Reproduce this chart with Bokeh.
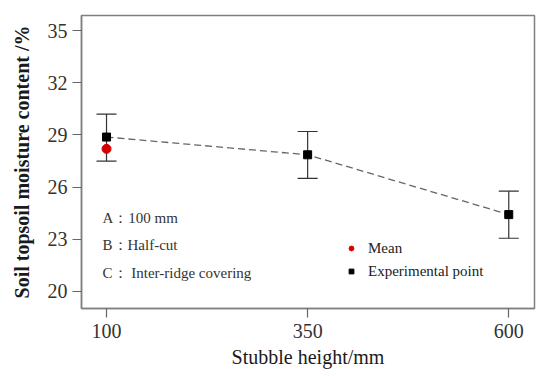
from bokeh.plotting import figure
from bokeh.models import (FixedTicker, Whisker, TeeHead, ColumnDataSource, Label,
                          Legend, LegendItem, Range1d)
from bokeh.embed import file_html
from bokeh.resources import INLINE

# ---- data ----
heights = [100, 350, 600]
exp_points = [28.88, 27.86, 24.42]
err_upper = [30.2, 29.2, 25.77]
err_lower = [27.5, 26.5, 23.06]
mean_x = [100]
mean_y = [28.2]
y_ticks = [20, 23, 26, 29, 32, 35]
x_ticks = [100, 350, 600]
notes = ["A\uff1a100 mm", "B\uff1aHalf-cut", "C\uff1a Inter-ridge covering"]
note_y = [24.21, 22.65, 21.04]

FONT = "Liberation Serif"

p = figure(width=550, height=378, output_backend="svg", toolbar_location=None,
           x_range=Range1d(68.9, 632), y_range=Range1d(19.02, 35.87),
           min_border_left=81, min_border_right=16, min_border_top=15,
           min_border_bottom=70)
p.xgrid.visible = False
p.ygrid.visible = False
p.outline_line_color = "#808080"
p.outline_line_width = 1.5
p.background_fill_color = "white"
p.border_fill_color = "white"

for ax in (p.xaxis, p.yaxis):
    ax.axis_line_color = "#808080"
    ax.axis_line_width = 1.5
    ax.major_tick_line_color = "#666666"
    ax.major_tick_line_width = 1.2
    ax.major_tick_out = 9
    ax.major_tick_in = 0
    ax.minor_tick_line_color = None
    ax.major_label_text_font = FONT
    ax.major_label_text_font_size = "20px"
    ax.major_label_text_color = "#333333"
    ax.axis_label_text_font = FONT
    ax.axis_label_text_font_size = "20px"
    ax.axis_label_text_color = "#1a1a1a"

p.xaxis.ticker = FixedTicker(ticks=x_ticks)
p.yaxis.ticker = FixedTicker(ticks=y_ticks)
p.xaxis.axis_label = "Stubble height/mm"
p.xaxis.axis_label_text_font_style = "normal"
p.xaxis.major_label_standoff = 6
p.xaxis.axis_label_standoff = 5
p.yaxis.axis_label = "Soil topsoil moisture content /%"
p.yaxis.axis_label_text_font_style = "bold"
p.yaxis.major_label_standoff = 5
p.yaxis.axis_label_standoff = 12

src = ColumnDataSource(dict(x=heights, y=exp_points, up=err_upper, lo=err_lower))

# dashed connection line
p.line("x", "y", source=src, line_color="#666666", line_width=1.3, line_dash="7 4")

# error bars
wh = Whisker(base="x", upper="up", lower="lo", source=src,
             line_color="#333333", line_width=1.2,
             upper_head=TeeHead(size=20, line_color="#333333", line_width=1.2),
             lower_head=TeeHead(size=20, line_color="#333333", line_width=1.2))
p.add_layout(wh)

mean_r = p.scatter(mean_x, mean_y, marker="circle", size=9, fill_color="#d40000",
                   line_color="#d40000")
exp_r = p.scatter("x", "y", source=src, marker="square", size=8, fill_color="black",
                  line_color="black")

for t, yy in zip(notes, note_y):
    p.add_layout(Label(x=95, y=yy, text=t, text_font=FONT, text_font_size="15px",
                       text_color="#333333", text_baseline="middle"))

legend = Legend(items=[LegendItem(label="Mean", renderers=[mean_r]),
                       LegendItem(label="Experimental point", renderers=[exp_r])],
                location=(264, 27), border_line_color=None, background_fill_alpha=0,
                padding=0, margin=0, spacing=3, glyph_width=12, glyph_height=20,
                label_height=20, label_standoff=11, label_text_font=FONT,
                label_text_font_size="15px", label_text_color="#222222")
p.add_layout(legend)

open("out.html", "w").write(file_html(p, INLINE))
